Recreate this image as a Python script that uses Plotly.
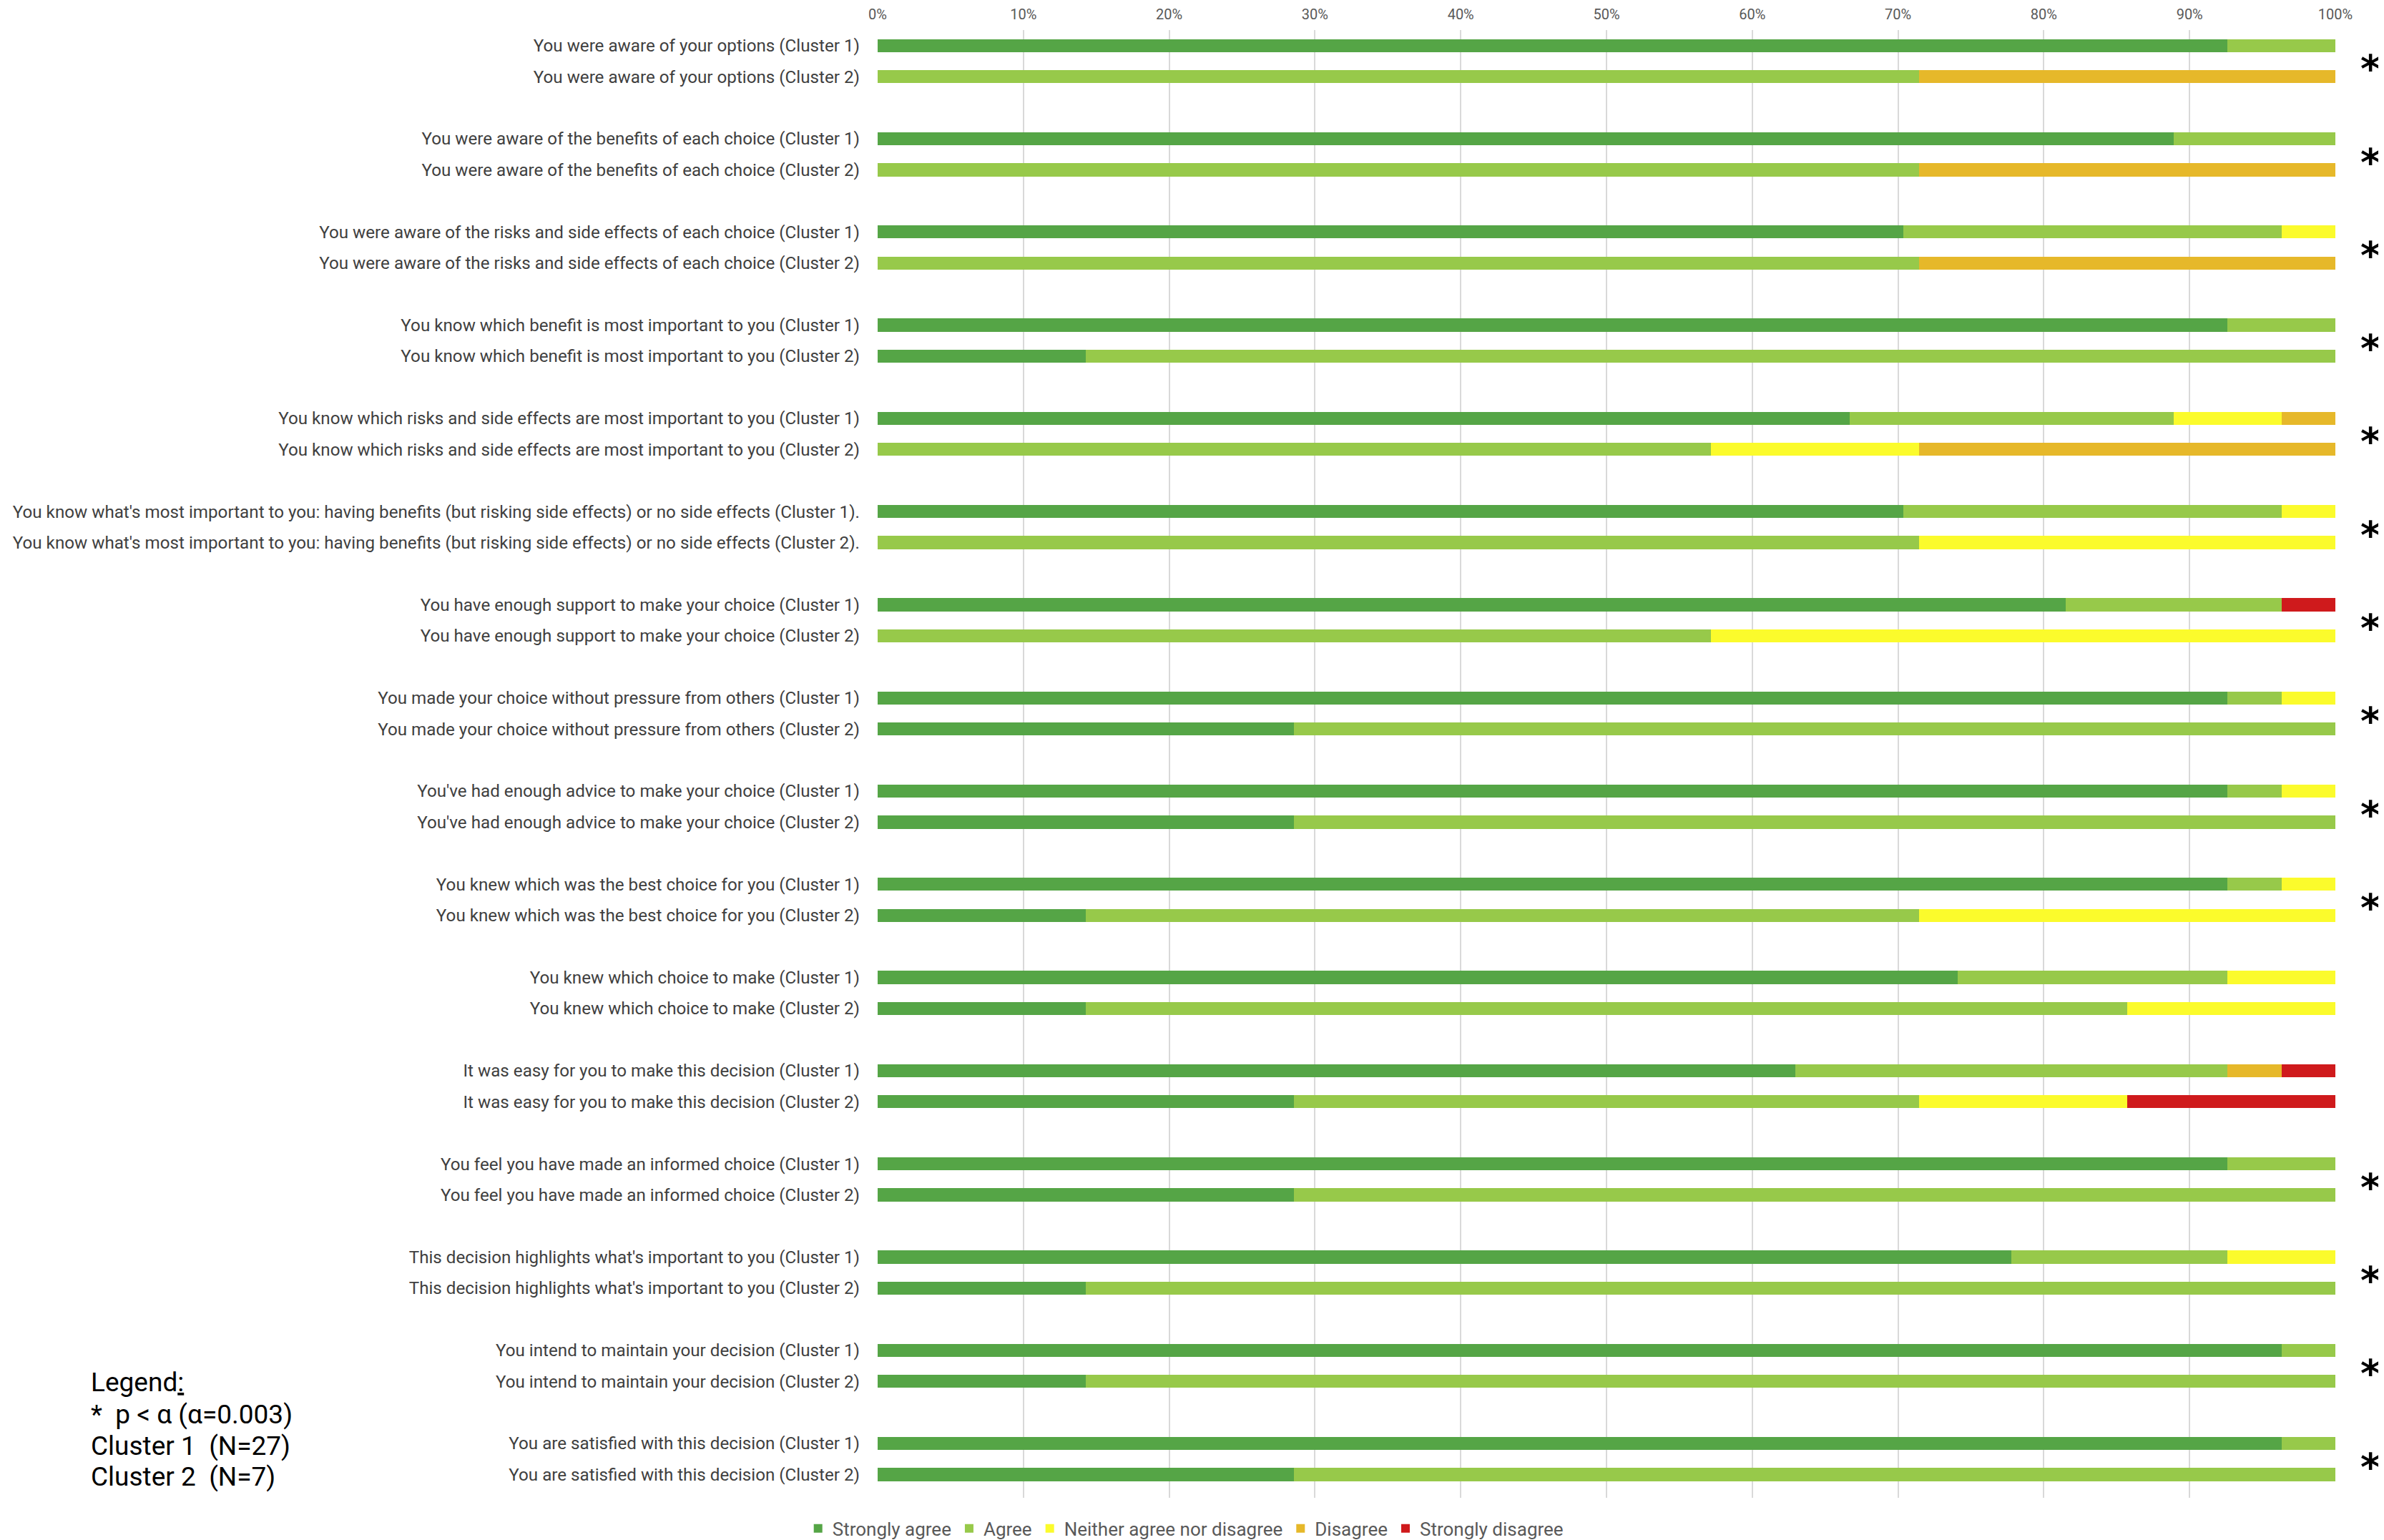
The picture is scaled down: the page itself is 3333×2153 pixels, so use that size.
import plotly.graph_objects as go

# statements (each one has a Cluster 1 and Cluster 2 row)
statements = [
    "You were aware of your options",
    "You were aware of the benefits of each choice",
    "You were aware of the risks and side effects of each choice",
    "You know which benefit is most important to you",
    "You know which risks and side effects are most important to you",
    "You know what's most important to you: having benefits (but risking side effects) or no side effects",
    "You have enough support to make your choice",
    "You made your choice without pressure from others",
    "You've had enough advice to make your choice",
    "You knew which was the best choice for you",
    "You knew which choice to make",
    "It was easy for you to make this decision",
    "You feel you have made an informed choice",
    "This decision highlights what's important to you",
    "You intend to maintain your decision",
    "You are satisfied with this decision",
]
with_dot = [5]  # statement index whose labels end with a full stop
significant = [True] * 10 + [False, False] + [True] * 4

answers = ["Strongly agree", "Agree", "Neither agree nor disagree", "Disagree", "Strongly disagree"]
colors = ["#55a546", "#97c94a", "#fbfb2c", "#e6b82a", "#cf1a1c"]

# respondent counts, Cluster 1 (N=27)
c1_sa = [25, 24, 19, 25, 18, 19, 22, 25, 25, 25, 20, 17, 25, 21, 26, 26]
c1_a = [2, 3, 7, 2, 6, 7, 4, 1, 1, 1, 5, 8, 2, 4, 1, 1]
c1_n = [0, 0, 1, 0, 2, 1, 0, 1, 1, 1, 2, 0, 0, 2, 0, 0]
c1_d = [0, 0, 0, 0, 1, 0, 0, 0, 0, 0, 0, 1, 0, 0, 0, 0]
c1_sd = [0, 0, 0, 0, 0, 0, 1, 0, 0, 0, 0, 1, 0, 0, 0, 0]

# respondent counts, Cluster 2 (N=7)
c2_sa = [0, 0, 0, 1, 0, 0, 0, 2, 2, 1, 1, 2, 2, 1, 1, 2]
c2_a = [5, 5, 5, 6, 4, 5, 4, 5, 5, 4, 5, 3, 5, 6, 6, 5]
c2_n = [0, 0, 0, 0, 1, 2, 3, 0, 0, 2, 1, 1, 0, 0, 0, 0]
c2_d = [2, 2, 2, 0, 2, 0, 0, 0, 0, 0, 0, 0, 0, 0, 0, 0]
c2_sd = [0, 0, 0, 0, 0, 0, 0, 0, 0, 0, 0, 1, 0, 0, 0, 0]

c1 = [c1_sa, c1_a, c1_n, c1_d, c1_sd]
c2 = [c2_sa, c2_a, c2_n, c2_d, c2_sd]

pct_ticks = list(range(0, 101, 10))
note_lines = ["Legend<u>:</u>", "*  p < α (α=0.003)", "Cluster 1  (N=27)", "Cluster 2  (N=7)"]

# rows: C1, C2, then a blank slot before the next statement
ypos, labels = [], []
for i, s in enumerate(statements):
    end = "." if i in with_dot else ""
    ypos += [3 * i, 3 * i + 1]
    labels += [f"{s} (Cluster 1){end}", f"{s} (Cluster 2){end}"]

fig = go.Figure()
for k, name in enumerate(answers):
    vals = []
    for i in range(len(statements)):
        vals += [c1[k][i], c2[k][i]]
    fig.add_trace(go.Bar(
        x=vals, y=ypos, orientation="h", name=name,
        marker=dict(color=colors[k], line=dict(width=0)),
        width=0.42,
    ))

font = "Roboto, sans-serif"

annotations = []
for i, sig in enumerate(significant):
    if sig:
        annotations.append(dict(
            x=1.0, xref="paper", xanchor="center", xshift=49,
            y=3 * i + 0.6, yref="y", yanchor="middle", yshift=-7,
            text="<b>*</b>", showarrow=False,
            font=dict(size=54, color="black", family="DejaVu Sans"),
        ))

# the little legend block on the lower left
note_y = [43.02, 44.06, 45.09, 46.06]
for txt, yy in zip(note_lines, note_y):
    annotations.append(dict(
        x=-0.5407, xref="paper", xanchor="left",
        y=yy, yref="y", yanchor="middle",
        text=txt, align="left", showarrow=False,
        font=dict(size=37, color="black", family=font),
    ))

# page body adds an 8px offset, so the figure is 8px smaller each way
fig.update_layout(
    barmode="stack",
    barnorm="percent",
    width=3325, height=2145,
    margin=dict(l=1219, r=68, t=34, b=59),
    plot_bgcolor="white", paper_bgcolor="white",
    font=dict(family=font, size=22, color="#595959"),
    xaxis=dict(
        side="top", range=[0, 100], tickvals=pct_ticks,
        ticktext=[f"{v}%" for v in pct_ticks],
        showgrid=True, gridcolor="#d9d9d9", gridwidth=2,
        zeroline=False, showline=False, ticks="", ticklen=0,
        ticklabelstandoff=10, automargin=False,
        tickfont=dict(size=20, color="#595959"),
    ),
    yaxis=dict(
        range=[46.75, -0.5], tickvals=ypos, ticktext=labels,
        showgrid=False, zeroline=False, ticks="", ticklabelstandoff=24,
        automargin=False,
        tickfont=dict(size=24.2, color="#404040"),
    ),
    legend=dict(
        orientation="h", xref="container", yref="container",
        x=0.496, xanchor="center", y=0.0075, yanchor="middle",
        font=dict(size=26, color="#595959"), traceorder="normal",
    ),
    annotations=annotations,
)

fig.write_html("out.html")
